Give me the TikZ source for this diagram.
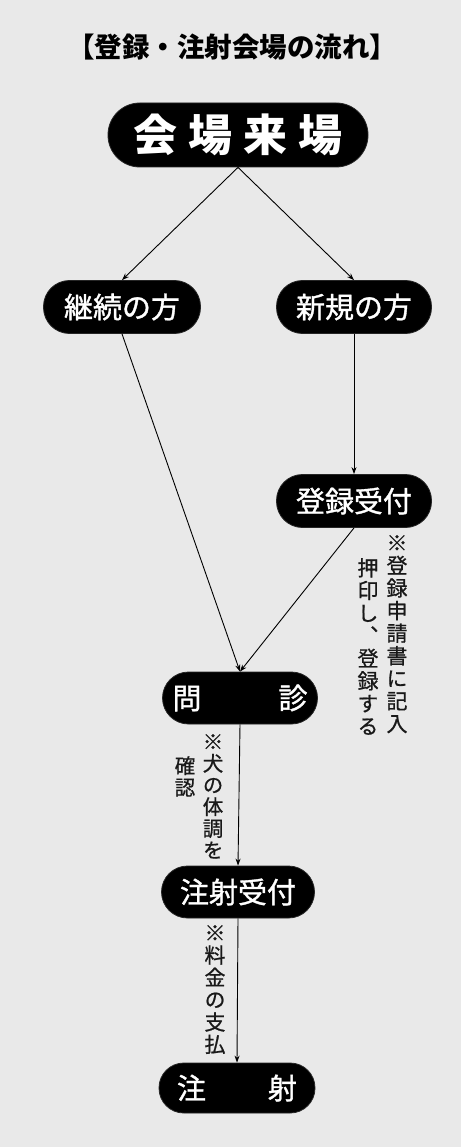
\documentclass[tikz,border=0pt]{standalone}
\usepackage{fontspec}
\setmainfont{Noto Sans CJK JP}
\newfontfamily\jpmed[FakeBold=1.2]{Noto Sans CJK JP}
\newfontfamily\vjp[RawFeature=+vert,FakeBold=0.8]{Noto Sans CJK JP}
\usetikzlibrary{arrows.meta}
\definecolor{bggray}{RGB}{233,233,233}
\begin{document}
\begin{tikzpicture}[x=1pt,y=-1pt,
  pill/.style={fill=black, draw=black!85, line width=0.8pt, rounded corners=26pt,
    text=white, font=\jpmed\fontsize{29}{29}\selectfont,
    minimum height=53pt, minimum width=156pt, inner sep=0pt},
  conn/.style={draw=black, line width=0.9pt, -{Stealth[length=7pt,width=5pt]}},
  vnote/.style={anchor=north, inner sep=0pt, align=center, text=black!90,
    font=\vjp\fontsize{21}{22.6}\selectfont}]
\fill[bggray] (0,0) rectangle (461,1147);
\useasboundingbox (0,0) rectangle (461,1147);

\node[font=\bfseries\fontsize{27.5}{28}\selectfont] (title) at (232,47) {【登録・注射会場の流れ】};

\node[pill, minimum width=260pt, minimum height=64pt, rounded corners=31.8pt,
  font=\bfseries\fontsize{44}{44}\selectfont] (kaijo) at (238,135)
  {会\hspace{11pt}場\hspace{11pt}来\hspace{11pt}場};

\node[pill, minimum width=157pt] (keizoku) at (122,307) {継続の方};
\node[pill, minimum width=155pt] (shinki) at (354,307) {新規の方};
\node[pill, minimum width=155pt] (toroku) at (354,501) {登録受付};
\node[pill, minimum width=155pt, minimum height=52pt] (monshin) at (240,698) {問\hspace{77pt}診};
\node[pill, minimum width=153pt, minimum height=52pt] (chuuke) at (238,892) {注射受付};
\node[pill, minimum width=156pt, minimum height=50pt, rounded corners=24.8pt] (chusha) at (237,1088) {注\hspace{62pt}射};

\draw[conn] (kaijo.south) -- (keizoku.north);
\draw[conn] (kaijo.south) -- (shinki.north);
\draw[conn] (shinki.south) -- (toroku.north);
\draw[conn] (keizoku.south) -- (monshin.north);
\draw[conn] (toroku.south) -- (monshin.north);
\draw[conn] (monshin.south) -- (chuuke.north);
\draw[conn] (chuuke.south) -- (chusha.north);

\node[vnote] (n1a) at (397,535) {※\\登\\録\\申\\請\\書\\に\\記\\入};
\node[vnote] (n1b) at (368,558) {押\\印\\し\\、\\登\\録\\す\\る};
\node[vnote, font=\vjp\fontsize{20.5}{21.7}\selectfont] (n2a) at (213,734) {※\\犬\\の\\体\\調\\を};
\node[vnote, font=\vjp\fontsize{20.5}{21.7}\selectfont] (n2b) at (185,756) {確\\認};
\node[vnote, font=\vjp\fontsize{21}{22.3}\selectfont] (n3) at (215,925) {※\\料\\金\\の\\支\\払};
\end{tikzpicture}
\end{document}
